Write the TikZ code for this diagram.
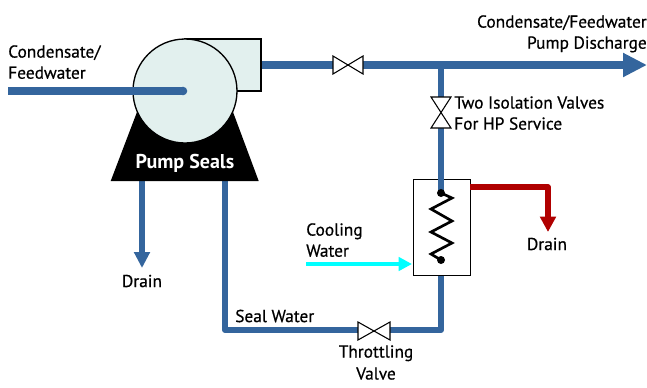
\documentclass[tikz,border=0pt]{standalone}
\usepackage{fontspec}
\setmainfont[FakeBold=0.6]{PT Sans}
\newfontfamily\sealfont{PT Sans Bold}
\usetikzlibrary{arrows.meta}
\definecolor{pipeblue}{HTML}{34659D}
\definecolor{pumpfill}{HTML}{E2F0EE}
\definecolor{drainred}{HTML}{B00000}
\definecolor{coolcyan}{HTML}{00FFFF}
\tikzset{
  x=0.75pt,y=-0.75pt,
  pipe/.style={draw=pipeblue,line width=4.5pt,line join=round},
  mainpipe/.style={draw=pipeblue,line width=6.4pt,line join=round},
  label/.style={font=\fontsize{13}{15.8}\selectfont,inner sep=0pt,text=black},
  valvesym/.style={draw=black,fill=white,line width=0.8pt,line join=miter},
  outline/.style={draw=black,line width=1pt}
}
\begin{document}
\begin{tikzpicture}
\useasboundingbox (0,0) rectangle (647,387);
% named points
\coordinate (feedstart) at (8,91);
\coordinate (pumpcentre) at (183,91);
\coordinate (outlet) at (261,65);
\coordinate (dischargeend) at (647,65);
\coordinate (tee) at (441,65);
\coordinate (hxtop) at (441,193);
\coordinate (hxbot) at (441,260);
\coordinate (sealleft) at (142,178);
\coordinate (drainleft) at (142,268);
\coordinate (sealright) at (225,178);
\coordinate (corner1) at (225,330);
\coordinate (corner2) at (441,330);
\coordinate (redstart) at (470,187);
\coordinate (redcorner) at (548,187);
\coordinate (redend) at (548,232);
\coordinate (coolstart) at (306,264);
\coordinate (coolend) at (412,264);
% pipes
\draw[mainpipe,-{Triangle[length=18pt,width=17pt]}] (outlet) -- (dischargeend);
\draw[pipe] (tee) -- (hxtop);
\draw[pipe,-{Triangle[length=12pt,width=11.5pt]}] (sealleft) -- (drainleft);
\draw[pipe] (sealright) -- (corner1) -- (corner2) -- (hxbot);
% heat exchanger
\node[outline,fill=white,minimum width=43pt,minimum height=72pt,inner sep=0pt,anchor=north west] (hx) at (412.5,178.5) {};
\draw[pipe] (tee) -- (hxtop);
\draw[pipe] (hx.south -| hxbot) -- (corner2);
\draw[line width=2pt,line join=miter] (hxtop) -- (452,198) -- (431,209) -- (452,221) -- (431,232) -- (452,243) -- (431,254) -- (hxbot);
\fill (hxtop) circle (3pt);
\fill (hxbot) circle (3pt);
% red drain
\draw[draw=drainred,line width=3.8pt,line join=round,-{Triangle[length=11.5pt,width=11.5pt]}] (redstart) -- (redcorner) -- (redend);
% cooling
\draw[draw=coolcyan,line width=3.4pt,-{Triangle[length=10pt,width=10pt]}] (coolstart) -- (coolend);
% pump
\fill (137,112) -- (233,112) -- (258.7,181) -- (110.7,181) -- cycle;
\path[outline,fill=pumpfill] (185,39) -- (261,39) -- (261,91) -- (185,91) -- cycle;
\node[outline,fill=pumpfill,circle,minimum size=78pt,inner sep=0pt] (pump) at (185,91) {};
\draw[mainpipe,line cap=butt] (feedstart) -- (pumpcentre);
\fill[pipeblue] (pumpcentre) circle (3.2pt);
% valves
\fill[white] (333,56) rectangle (363,74);
\path[valvesym] (333,56) -- (348,65) -- (333,74) -- cycle;
\path[valvesym] (363,56) -- (348,65) -- (363,74) -- cycle;
\fill[white] (431,97) rectangle (451,128);
\path[valvesym] (431,97) -- (451,97) -- (441,112.5) -- cycle;
\path[valvesym] (431,128) -- (451,128) -- (441,112.5) -- cycle;
\fill[white] (358,322) rectangle (390,340);
\path[valvesym] (358,322) -- (374,331) -- (358,340) -- cycle;
\path[valvesym] (390,322) -- (374,331) -- (390,340) -- cycle;
% labels
\node[label,align=left,anchor=north west] (t1) at (8,45) {Condensate/\\Feedwater};
\node[label,align=right,anchor=north east] (t2) at (647,15) {Condensate/Feedwater\\Pump Discharge};
\node[label,align=left,anchor=north west] (t3) at (454,96) {Two Isolation Valves\\For HP Service};
\node[label,anchor=center] (t4) at (547,244) {Drain};
\node[label,anchor=center] (t5) at (142,281) {Drain};
\node[label,align=left,anchor=north west] (t6) at (306,223) {Cooling\\Water};
\node[label,anchor=west] (t7) at (235,316) {Seal Water};
\node[label,align=center,anchor=north,font=\fontsize{13}{16.5}\selectfont] (t8) at (376,345) {Throttling\\Valve};
\node[inner sep=0pt,font=\fontsize{15}{17}\sealfont,text=white] (t9) at (185,163) {Pump Seals};
\end{tikzpicture}
\end{document}
